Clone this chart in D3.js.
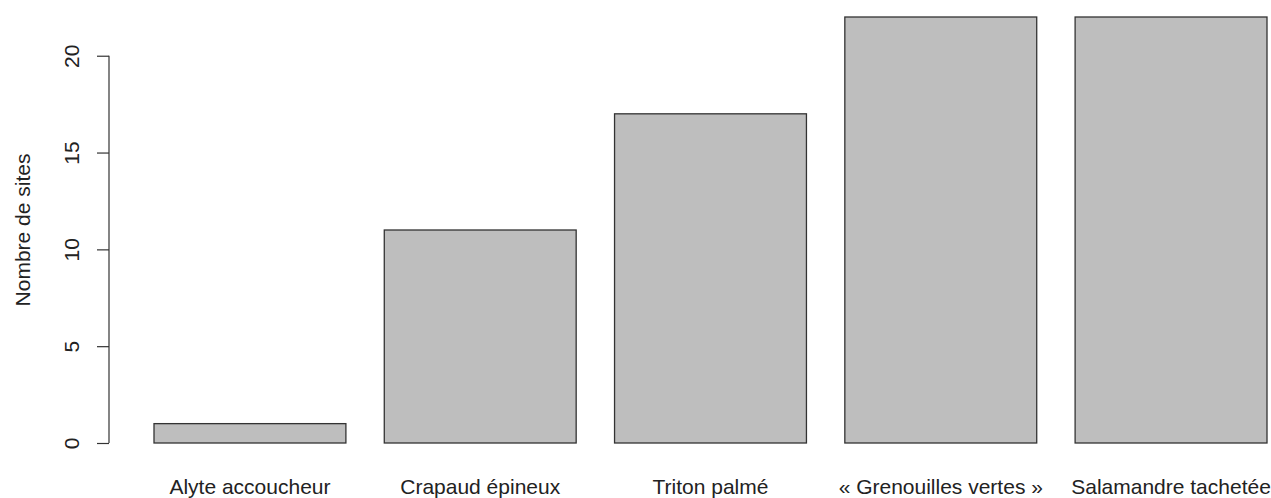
<!DOCTYPE html>
<html><head><meta charset="utf-8">
<script src="https://cdn.jsdelivr.net/npm/d3@7"></script>
<style>body{margin:0;background:#fff}svg{display:block}text{font-family:"Liberation Sans",Arial,sans-serif}</style>
</head><body>
<svg id="c" width="1271" height="498"></svg>
<script>
const categories = ["Alyte accoucheur","Crapaud épineux","Triton palmé","« Grenouilles vertes »","Salamandre tachetée"];
const values = [1, 11, 17, 22, 22];
const yTicks = [0, 5, 10, 15, 20];
const yLabel = "Nombre de sites";

const svg = d3.select("#c");
const y = d3.scaleLinear().domain([0, 22]).range([443, 17]);
const x = d3.scaleBand().domain(categories).range([154, 1267]).paddingInner(1/6).paddingOuter(0);

svg.selectAll("rect.bar").data(values).join("rect")
  .attr("class","bar")
  .attr("x", (d,i)=>x(categories[i]))
  .attr("width", x.bandwidth())
  .attr("y", d=>y(d))
  .attr("height", d=>y(0)-y(d))
  .attr("fill","#bebebe").attr("stroke","#333").attr("stroke-width",1.3);

const axisX = 109;
const ax = svg.append("g").attr("transform",`translate(${axisX},0)`)
  .call(d3.axisLeft(y).tickValues(yTicks).tickSize(12).tickSizeOuter(0).tickFormat(d3.format("d")));
ax.select(".domain").remove();
ax.selectAll(".tick line").attr("stroke","#333").attr("stroke-width",1.2);
ax.append("line").attr("x1",0).attr("x2",0).attr("y1",y(0)).attr("y2",y(20)).attr("stroke","#333").attr("stroke-width",1.2);
ax.selectAll(".tick text")
  .attr("x",0).attr("y",0).attr("dy",null)
  .attr("transform","translate(-38,0) rotate(-90)")
  .attr("text-anchor","middle").attr("dominant-baseline","central")
  .attr("font-size",21).attr("fill","#222")
  .style("font-family",'"Liberation Sans",Arial,sans-serif');

svg.append("text").attr("transform",`translate(30,${(y(0)+y(22))/2}) rotate(-90)`)
  .attr("text-anchor","middle").attr("font-size",21).attr("fill","#222").text(yLabel);

svg.selectAll("text.cat").data(categories).join("text")
  .attr("class","cat")
  .attr("x", d=>x(d)+x.bandwidth()/2).attr("y", 494)
  .attr("text-anchor","middle").attr("font-size",21).attr("fill","#222").text(d=>d);
</script>
</body></html>
